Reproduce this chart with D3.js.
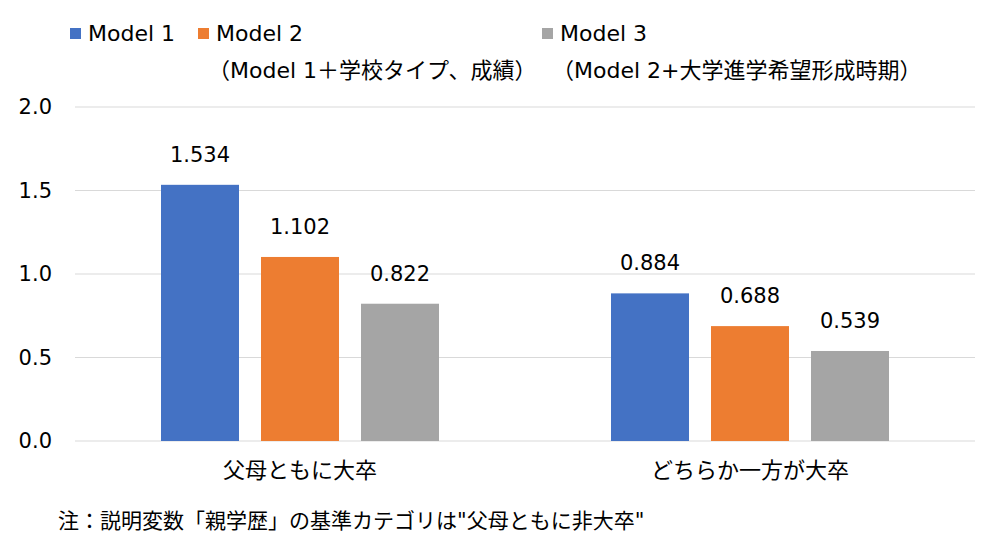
<!DOCTYPE html>
<html>
<head>
<meta charset="utf-8">
<script src="https://cdn.jsdelivr.net/npm/d3@7"></script>
<style>
  body { margin: 0; background: #fff; }
  svg text { font-family: "DejaVu Sans", "Noto Sans CJK JP", sans-serif; fill: #000; }
</style>
</head>
<body>
<svg width="1000" height="538"></svg>
<script>
// Data
const categories = ["父母ともに大卒", "どちらか一方が大卒"];
const seriesNames = ["Model 1", "Model 2", "Model 3"];
const seriesNotes = ["", "（Model 1＋学校タイプ、成績）", "（Model 2+大学進学希望形成時期）"];
const model1 = [1.534, 0.884];
const model2 = [1.102, 0.688];
const model3 = [0.822, 0.539];
const yTicks = [0, 0.5, 1.0, 1.5, 2.0];
const colors = ["#4472C4", "#ED7D31", "#A5A5A5"];
const note = "注：説明変数「親学歴」の基準カテゴリは\"父母ともに非大卒\"";

const values = [model1, model2, model3];

const svg = d3.select("svg");

// Scales
const x0 = d3.scaleBand()
    .domain(categories)
    .range([75, 975]);

const x1 = d3.scaleBand()
    .domain(seriesNames)
    .range([-139, 139])
    .paddingInner(0.22);

const y = d3.scaleLinear()
    .domain([0, 2])
    .range([441, 107]);

// Grid lines
svg.append("g")
    .selectAll("line")
    .data(yTicks)
    .join("line")
    .attr("x1", 75)
    .attr("x2", 975)
    .attr("y1", d => y(d))
    .attr("y2", d => y(d))
    .attr("stroke", "#d9d9d9")
    .attr("stroke-width", 1);

// Y tick labels
svg.append("g")
    .selectAll("text")
    .data(yTicks)
    .join("text")
    .attr("x", 52)
    .attr("y", d => y(d))
    .attr("text-anchor", "end")
    .attr("dominant-baseline", "central")
    .style("font-size", "21px")
    .text(d => d3.format(".1f")(d));

// Bars grouped by category
const groups = svg.append("g")
    .selectAll("g")
    .data(categories)
    .join("g")
    .attr("transform", d => `translate(${x0(d) + x0.bandwidth() / 2},0)`);

groups.selectAll("rect")
    .data((c, i) => seriesNames.map((s, j) => ({ s, j, v: values[j][i] })))
    .join("rect")
    .attr("x", d => x1(d.s))
    .attr("width", x1.bandwidth())
    .attr("y", d => y(d.v))
    .attr("height", d => y(0) - y(d.v))
    .attr("fill", d => colors[d.j]);

// Value labels
groups.selectAll("text.value")
    .data((c, i) => seriesNames.map((s, j) => ({ s, j, v: values[j][i] })))
    .join("text")
    .attr("class", "value")
    .attr("x", d => x1(d.s) + x1.bandwidth() / 2)
    .attr("y", d => y(d.v) - 30)
    .attr("text-anchor", "middle")
    .attr("dominant-baseline", "central")
    .style("font-size", "21px")
    .text(d => d3.format(".3f")(d.v));

// Category labels
svg.append("g")
    .selectAll("text")
    .data(categories)
    .join("text")
    .attr("x", d => x0(d) + x0.bandwidth() / 2)
    .attr("y", 470)
    .attr("text-anchor", "middle")
    .attr("dominant-baseline", "central")
    .style("font-size", "22px")
    .text(d => d);

// Legend
const legendX = [70, 198, 542];
const legend = svg.append("g")
    .selectAll("g")
    .data(seriesNames)
    .join("g")
    .attr("transform", (d, i) => `translate(${legendX[i]},0)`);

legend.append("rect")
    .attr("x", 0)
    .attr("y", 28)
    .attr("width", 11)
    .attr("height", 11)
    .attr("fill", (d, i) => colors[i]);

legend.append("text")
    .attr("x", 18)
    .attr("y", 33)
    .attr("dominant-baseline", "central")
    .style("font-size", "22px")
    .text(d => d);

legend.append("text")
    .attr("x", 10)
    .attr("y", 70)
    .attr("dominant-baseline", "central")
    .style("font-size", "22px")
    .text((d, i) => seriesNotes[i]);

// Footnote
svg.append("text")
    .attr("x", 58)
    .attr("y", 521)
    .attr("dominant-baseline", "central")
    .style("font-size", "21px")
    .text(note);
</script>
</body>
</html>
